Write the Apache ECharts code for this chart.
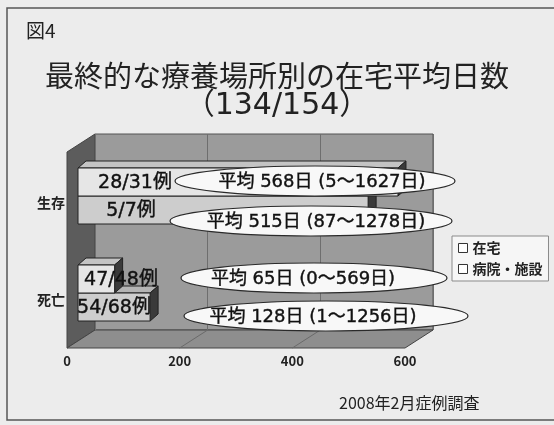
<!DOCTYPE html>
<html><head><meta charset="utf-8">
<script src="https://cdn.jsdelivr.net/npm/echarts@6/dist/echarts.min.js"></script>
<style>html,body{margin:0;padding:0;background:#ececec}#c{width:554px;height:425px}</style>
</head><body><div id="c"></div>
<script>
// ---- data ----
const categories = ['生存', '死亡'];
const seriesNames = ['在宅', '病院・施設'];
const homeDays = [568, 65];
const hospDays = [515, 128];
const homeCases = ['28/31例', '47/48例'];
const hospCases = ['5/7例', '54/68例'];
const homeRange = ['5〜1627', '0〜569'];
const hospRange = ['87〜1278', '1〜1256'];
const xTicks = [0, 200, 400, 600];

const FONT = '"Noto Sans CJK JP", "Noto Sans", sans-serif';
const WFONT = '"DejaVu Sans", "Noto Sans CJK JP", sans-serif';
const xMin = xTicks[0], xMax = xTicks[xTicks.length - 1], xStep = xTicks[1] - xTicks[0];

const chart = echarts.init(document.getElementById('c'), null, {renderer: 'canvas'});

function barRender(sIdx, cases, frontColor, topColor) {
  return function (params, api) {
    const ci = api.value(1);
    const v = api.value(0);
    const p0 = api.coord([0, ci]);
    const p1 = api.coord([v, ci]);
    const h = 28, dx = 8, dy = 7;
    const yTop = sIdx === 0 ? p0[1] - h : p0[1];
    const x0 = p0[0], x1 = p1[0];
    const tx = ci === 0 ? x0 + 57 - sIdx * 4 : x0 + 43 - sIdx * 7;
    return {
      type: 'group',
      children: [
        {type: 'polygon', shape: {points: [[x0, yTop], [x0 + dx, yTop - dy], [x1 + dx, yTop - dy], [x1, yTop]]},
          style: {fill: topColor, stroke: '#222', lineWidth: 1}},
        {type: 'polygon', shape: {points: [[x1, yTop], [x1 + dx, yTop - dy], [x1 + dx, yTop + h - dy], [x1, yTop + h]]},
          style: {fill: '#3a3a3a', stroke: '#222', lineWidth: 1}},
        {type: 'rect', shape: {x: x0, y: yTop, width: x1 - x0, height: h},
          style: {fill: frontColor, stroke: '#222', lineWidth: 1}},
        {type: 'text', style: {text: cases[params.dataIndex], x: tx, y: yTop + h / 2 + 1,
          align: 'center', verticalAlign: 'middle', textAlign: 'center', textVerticalAlign: 'middle',
          font: '19px ' + WFONT, fill: '#111', stroke: '#111', lineWidth: 0.4}}
      ]
    };
  };
}

// annotation layout (pixel offsets of the callout ellipses)
const annLayout = [
  [{dy: -15, cx: 315, rx: 140, tdx: 7}, {dy: 25, cx: 311, rx: 141, tdx: 5}],
  [{dy: -15, cx: 314, rx: 133, tdx: -11}, {dy: 23, cx: 326, rx: 142, tdx: -13}]
];

const annData = [];
categories.forEach((c, ci) => {
  annData.push([homeDays[ci], ci, 0]);
  annData.push([hospDays[ci], ci, 1]);
});

function annRender(params, api) {
  const ci = api.value(1);
  const s = api.value(2);
  const d = api.value(0);
  const center = api.coord([0, ci])[1];
  const L = annLayout[ci][s];
  const cy = center + L.dy;
  const range = s === 0 ? homeRange[ci] : hospRange[ci];
  return {
    type: 'group',
    children: [
      {type: 'ellipse', shape: {cx: L.cx, cy: cy, rx: L.rx, ry: 15},
        style: {fill: '#f8f8f8', stroke: '#2a2a2a', lineWidth: 1.2}},
      {type: 'text', style: {text: '平均 ' + d + '日 (' + range + '日)', x: L.cx + L.tdx, y: cy + 1,
        align: 'center', verticalAlign: 'middle', textAlign: 'center', textVerticalAlign: 'middle',
        font: '18px ' + WFONT, fill: '#111', stroke: '#111', lineWidth: 0.4}}
    ]
  };
}

// back-wall / floor geometry
const back = {left: 95, top: 134, width: 338, height: 196};
const front = {left: 67, top: 154, width: 338, height: 194};
const floorLines = xTicks.slice(1, -1).map(t => {
  const f = (t - xMin) / (xMax - xMin);
  return {type: 'line', z: 1,
    shape: {x1: back.left + back.width * f, y1: back.top + back.height, x2: front.left + front.width * f, y2: front.top + front.height},
    style: {stroke: '#6a6a6a', lineWidth: 1}};
});

const option = {
  animation: false,
  backgroundColor: '#ececec',
  title: [
    {text: '図4', left: 21, top: 16, textStyle: {fontFamily: FONT, fontSize: 19, fontWeight: 'normal', color: '#222'}},
    {text: '最終的な療養場所別の在宅平均日数', left: 'center', top: 56,
      textStyle: {fontFamily: FONT, fontSize: 29, fontWeight: 'normal', color: '#222'}},
    {text: '（134/154）', left: 'center', top: 86,
      textStyle: {fontFamily: WFONT, fontSize: 30, fontWeight: 'normal', color: '#222'}}
  ],
  legend: {
    data: seriesNames, orient: 'vertical', left: 452, top: 236,
    backgroundColor: '#f6f6f6', borderColor: '#8a8a8a', borderWidth: 1,
    padding: [5, 6, 5, 6], itemWidth: 9, itemHeight: 9, itemGap: 7, icon: 'rect',
    itemStyle: {color: '#ffffff', borderColor: '#333', borderWidth: 1},
    textStyle: {fontFamily: FONT, fontSize: 14, fontWeight: 'bold', color: '#222'}
  },
  grid: [
    {left: 78, top: 147.5, width: 338, height: 194},
    {left: back.left, top: back.top, width: back.width, height: back.height, show: true,
      backgroundColor: '#9b9b9b', borderColor: '#555', borderWidth: 1},
    {left: front.left, top: front.top, width: front.width, height: front.height}
  ],
  xAxis: [
    {gridIndex: 0, type: 'value', min: xMin, max: xMax, interval: xStep, show: false},
    {gridIndex: 1, type: 'value', min: xMin, max: xMax, interval: xStep,
      axisLine: {show: false}, axisTick: {show: false}, axisLabel: {show: false},
      splitLine: {show: true, lineStyle: {color: '#6e6e6e', width: 1}}},
    {gridIndex: 2, type: 'value', min: xMin, max: xMax, interval: xStep,
      axisLine: {show: false}, axisTick: {show: false}, splitLine: {show: false},
      axisLabel: {margin: 7, fontFamily: FONT, fontSize: 13, fontWeight: 'bold', color: '#222'}}
  ],
  yAxis: [
    {gridIndex: 0, type: 'category', inverse: true, data: categories, show: false},
    {gridIndex: 1, type: 'category', inverse: true, data: categories, show: false},
    {gridIndex: 2, type: 'category', inverse: true, data: categories,
      axisLine: {show: false}, axisTick: {show: false}, splitLine: {show: false},
      axisLabel: {margin: 2, fontFamily: FONT, fontSize: 14, fontWeight: 'bold', color: '#222'}}
  ],
  graphic: [
    {type: 'polygon', z: 0, shape: {points: [[front.left, 152], [back.left, back.top], [back.left, back.top + back.height], [front.left, front.top + front.height]]},
      style: {fill: '#5c5c5c', stroke: '#444', lineWidth: 1}},
    {type: 'polygon', z: 0, shape: {points: [[front.left, front.top + front.height], [back.left, back.top + back.height], [back.left + back.width, back.top + back.height], [front.left + front.width, front.top + front.height]]},
      style: {fill: '#8e8e8e', stroke: '#444', lineWidth: 1}},
    ...floorLines,
    {type: 'text', left: 339, top: 395, style: {text: '2008年2月症例調査', font: '16px ' + FONT, fill: '#222'}},
    {type: 'rect', z: 0, shape: {x: 7, y: 8, width: 600, height: 412}, style: {fill: 'none', stroke: '#555', lineWidth: 1.5}}
  ],
  series: [
    {name: seriesNames[0], type: 'custom', xAxisIndex: 0, yAxisIndex: 0, z: 3,
      itemStyle: {color: '#e6e6e6'},
      data: homeDays.map((v, i) => [v, i]), encode: {x: 0, y: 1},
      renderItem: barRender(0, homeCases, '#e6e6e6', '#c4c4c4')},
    {name: seriesNames[1], type: 'custom', xAxisIndex: 0, yAxisIndex: 0, z: 2,
      itemStyle: {color: '#cccccc'},
      data: hospDays.map((v, i) => [v, i]), encode: {x: 0, y: 1},
      renderItem: barRender(1, hospCases, '#cdcdcd', '#b4b4b4')},
    {name: 'ann', type: 'custom', xAxisIndex: 0, yAxisIndex: 0, z: 5,
      data: annData, encode: {x: 0, y: 1}, renderItem: annRender}
  ]
};
chart.setOption(option);
</script>
</body></html>
